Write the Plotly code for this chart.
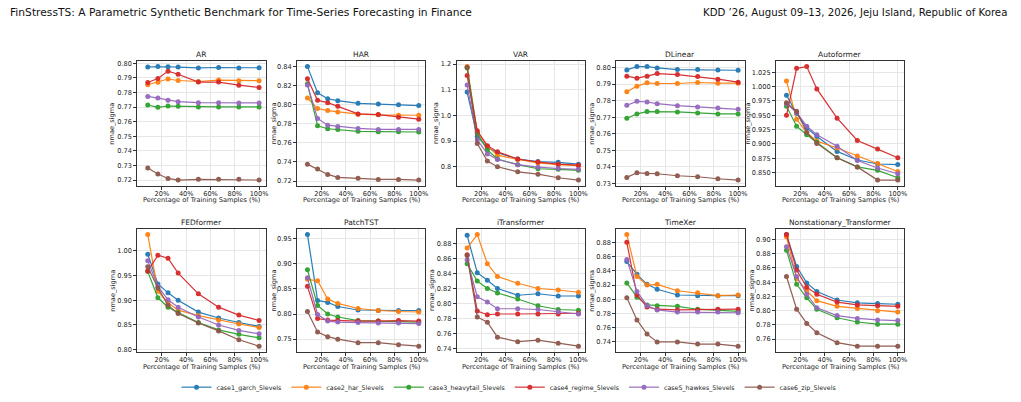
import plotly.graph_objects as go

# ---------------- data ----------------
pct = [8.33, 16.67, 25.0, 33.33, 50.0, 66.67, 83.33, 100.0]
x_tick_vals = [20, 40, 60, 80, 100]
x_tick_text = ["20%", "40%", "60%", "80%", "100%"]

series_names = ["case1_garch_5levels", "case2_har_5levels", "case3_heavytail_5levels",
                "case4_regime_5levels", "case5_hawkes_5levels", "case6_zip_5levels"]
series_colors = ["#1f77b4", "#ff7f0e", "#2ca02c", "#d62728", "#9467bd", "#8c564b"]

model_names = ["AR", "HAR", "VAR", "DLinear", "Autoformer",
               "FEDformer", "PatchTST", "iTransformer", "TimeXer", "Nonstationary_Transformer"]

# rows: garch, har, heavytail, regime, hawkes, zip
ar_vals = [
    [0.7975, 0.7977, 0.7976, 0.7974, 0.7968, 0.7971, 0.7968, 0.7969],
    [0.7853, 0.7870, 0.7892, 0.7882, 0.7875, 0.7885, 0.7880, 0.7880],
    [0.7714, 0.7698, 0.7707, 0.7705, 0.7701, 0.7701, 0.7701, 0.7701],
    [0.7868, 0.7896, 0.7946, 0.7925, 0.7871, 0.7871, 0.7850, 0.7834],
    [0.7773, 0.7762, 0.7746, 0.7737, 0.7730, 0.7730, 0.7728, 0.7728],
    [0.7282, 0.7241, 0.7211, 0.7200, 0.7205, 0.7205, 0.7205, 0.7200],
]
har_vals = [
    [0.8400, 0.8126, 0.8063, 0.8043, 0.8015, 0.8008, 0.8001, 0.7991],
    [0.8071, 0.7960, 0.7939, 0.7925, 0.7901, 0.7894, 0.7890, 0.7890],
    [0.8220, 0.7780, 0.7748, 0.7741, 0.7721, 0.7717, 0.7717, 0.7714],
    [0.8272, 0.8046, 0.8022, 0.7984, 0.7904, 0.7897, 0.7870, 0.7849],
    [0.8206, 0.7856, 0.7786, 0.7773, 0.7752, 0.7741, 0.7741, 0.7741],
    [0.7377, 0.7325, 0.7269, 0.7238, 0.7228, 0.7217, 0.7217, 0.7210],
]
var_vals = [
    [1.091, 0.918, 0.875, 0.855, 0.830, 0.820, 0.817, 0.810],
    [1.190, 0.935, 0.880, 0.845, 0.828, 0.815, 0.808, 0.804],
    [1.185, 0.930, 0.865, 0.830, 0.808, 0.792, 0.790, 0.786],
    [1.155, 0.940, 0.882, 0.858, 0.830, 0.818, 0.810, 0.806],
    [1.118, 0.905, 0.850, 0.828, 0.808, 0.798, 0.793, 0.790],
    [1.188, 0.890, 0.822, 0.800, 0.780, 0.771, 0.757, 0.748],
]
dlinear_vals = [
    [0.7986, 0.8006, 0.8006, 0.7998, 0.7988, 0.7988, 0.7986, 0.7984],
    [0.7854, 0.7888, 0.7908, 0.7904, 0.7904, 0.7910, 0.7906, 0.7906],
    [0.7694, 0.7720, 0.7734, 0.7734, 0.7732, 0.7726, 0.7720, 0.7720],
    [0.7948, 0.7936, 0.7948, 0.7964, 0.7958, 0.7946, 0.7930, 0.7912],
    [0.7772, 0.7796, 0.7792, 0.7782, 0.7770, 0.7762, 0.7756, 0.7748],
    [0.7336, 0.7364, 0.7360, 0.7358, 0.7346, 0.7340, 0.7328, 0.7320],
]
autoformer_vals = [
    [0.985, 0.953, 0.928, 0.913, 0.887, 0.872, 0.865, 0.864],
    [1.010, 0.943, 0.920, 0.905, 0.893, 0.879, 0.866, 0.852],
    [0.966, 0.931, 0.916, 0.903, 0.876, 0.860, 0.854, 0.841],
    [0.950, 1.032, 1.035, 0.996, 0.945, 0.906, 0.891, 0.876],
    [0.970, 0.955, 0.931, 0.916, 0.896, 0.871, 0.858, 0.848],
    [0.972, 0.957, 0.920, 0.901, 0.876, 0.860, 0.837, 0.837],
]
fedformer_vals = [
    [0.993, 0.933, 0.915, 0.900, 0.876, 0.864, 0.855, 0.847],
    [1.033, 0.918, 0.895, 0.880, 0.869, 0.860, 0.852, 0.845],
    [0.958, 0.905, 0.886, 0.875, 0.855, 0.840, 0.831, 0.824],
    [0.959, 0.991, 0.985, 0.955, 0.913, 0.886, 0.870, 0.859],
    [0.980, 0.928, 0.901, 0.886, 0.866, 0.850, 0.839, 0.832],
    [0.968, 0.925, 0.890, 0.873, 0.854, 0.838, 0.820, 0.807],
]
patchtst_vals = [
    [0.958, 0.827, 0.823, 0.815, 0.808, 0.807, 0.807, 0.807],
    [0.869, 0.866, 0.830, 0.821, 0.811, 0.807, 0.805, 0.804],
    [0.888, 0.817, 0.800, 0.794, 0.787, 0.786, 0.784, 0.784],
    [0.855, 0.791, 0.788, 0.787, 0.786, 0.786, 0.787, 0.786],
    [0.872, 0.799, 0.786, 0.784, 0.783, 0.782, 0.782, 0.781],
    [0.805, 0.764, 0.755, 0.750, 0.743, 0.743, 0.739, 0.736],
]
itransformer_vals = [
    [0.891, 0.841, 0.831, 0.820, 0.811, 0.813, 0.810, 0.810],
    [0.874, 0.892, 0.853, 0.836, 0.827, 0.820, 0.818, 0.815],
    [0.853, 0.830, 0.820, 0.814, 0.806, 0.797, 0.792, 0.791],
    [0.865, 0.790, 0.785, 0.786, 0.786, 0.786, 0.786, 0.787],
    [0.858, 0.809, 0.802, 0.793, 0.793, 0.792, 0.789, 0.786],
    [0.864, 0.782, 0.775, 0.755, 0.749, 0.751, 0.747, 0.743],
]
timexer_vals = [
    [0.853, 0.835, 0.821, 0.814, 0.806, 0.805, 0.805, 0.805],
    [0.891, 0.832, 0.820, 0.821, 0.812, 0.809, 0.805, 0.806],
    [0.823, 0.803, 0.792, 0.791, 0.790, 0.786, 0.785, 0.783],
    [0.880, 0.806, 0.789, 0.786, 0.785, 0.785, 0.786, 0.786],
    [0.856, 0.811, 0.791, 0.785, 0.782, 0.782, 0.782, 0.781],
    [0.802, 0.771, 0.751, 0.740, 0.740, 0.737, 0.737, 0.734],
]
nonstationary_vals = [
    [0.907, 0.862, 0.839, 0.827, 0.815, 0.811, 0.810, 0.809],
    [0.904, 0.845, 0.828, 0.814, 0.806, 0.803, 0.800, 0.798],
    [0.885, 0.837, 0.818, 0.802, 0.790, 0.784, 0.781, 0.781],
    [0.907, 0.857, 0.833, 0.823, 0.812, 0.808, 0.807, 0.806],
    [0.890, 0.848, 0.823, 0.804, 0.793, 0.789, 0.787, 0.786],
    [0.848, 0.802, 0.782, 0.769, 0.755, 0.750, 0.750, 0.750],
]
model_vals = [ar_vals, har_vals, var_vals, dlinear_vals, autoformer_vals,
              fedformer_vals, patchtst_vals, itransformer_vals, timexer_vals, nonstationary_vals]

y_dticks = [0.01, 0.02, 0.1, 0.01, 0.025, 0.05, 0.05, 0.02, 0.02, 0.02]
y_formats = [".2f", ".2f", ".1f", ".2f", ".3f", ".2f", ".2f", ".2f", ".2f", ".2f"]

x_title = "Percentage of Training Samples (%)"
y_title = "nmae_sigma"
header_left = "FinStressTS: A Parametric Synthetic Benchmark for Time-Series Forecasting in Finance"
header_right = "KDD \u201926, August 09\u201313, 2026, Jeju Island, Republic of Korea"

# ---------------- layout geometry (pixels) ----------------
W, H = 1021, 402
col_left = [137.7 + 160.15 * c for c in range(5)]
plot_w = 128.6
row_tb = [(61.0, 188.0), (232.0, 357.0)]
ytitle_offset = [25, 23, 20, 24, 28, 24, 23, 24, 24, 24]

FONT = "DejaVu Sans, Arial, sans-serif"
TICK_SIZE = 6.6
GRID = "#e6e6e6"
SPINE = "#333333"
TXT = "#222222"

fig = go.Figure()
layout = {}
annotations = []

for i, name in enumerate(model_names):
    r, c = divmod(i, 5)
    k = i + 1
    xa, ya = ("x", "y") if k == 1 else (f"x{k}", f"y{k}")
    vals = model_vals[i]
    for s in range(6):
        fig.add_trace(go.Scatter(
            x=pct, y=vals[s], mode="lines+markers", name=series_names[s],
            legendgroup=series_names[s], showlegend=(i == 0),
            line=dict(color=series_colors[s], width=1.2),
            marker=dict(size=5, color=series_colors[s]),
            opacity=0.95, cliponaxis=False, xaxis=xa, yaxis=ya))
    lo = min(min(v) for v in vals)
    hi = max(max(v) for v in vals)
    pad = 0.05 * (hi - lo)
    x0 = col_left[c] / W
    x1 = (col_left[c] + plot_w) / W
    top, bot = row_tb[r]
    y0 = 1 - bot / H
    y1 = 1 - top / H
    common = dict(showline=True, linecolor=SPINE, linewidth=1, mirror=True,
                  showgrid=True, gridcolor=GRID, gridwidth=0.8, zeroline=False,
                  ticks="outside", ticklen=3, tickwidth=0.8, tickcolor=SPINE,
                  tickfont=dict(family=FONT, size=TICK_SIZE, color=TXT))
    layout["xaxis" if k == 1 else f"xaxis{k}"] = dict(
        domain=[x0, x1], anchor=ya, range=[-0.3, 105.3], ticklabelstandoff=-2,
        tickmode="array", tickvals=x_tick_vals, ticktext=x_tick_text, **common)
    layout["yaxis" if k == 1 else f"yaxis{k}"] = dict(
        domain=[y0, y1], anchor=xa, range=[lo - pad, hi + pad],
        tick0=0, dtick=y_dticks[i], tickformat=y_formats[i], **common)
    # subplot title
    annotations.append(dict(
        text=name, x=(x0 + x1) / 2, y=1 - (top - 6.5) / H, xref="paper", yref="paper",
        xanchor="center", yanchor="middle", showarrow=False,
        font=dict(family=FONT, size=7.5, color=TXT)))
    # x-axis title
    annotations.append(dict(
        text=x_title, x=(x0 + x1) / 2, y=1 - (bot + 15) / H, xref="paper", yref="paper",
        xanchor="center", yanchor="middle", showarrow=False,
        font=dict(family=FONT, size=6.6, color=TXT)))
    # y-axis title
    annotations.append(dict(
        text=y_title, x=(col_left[c] - ytitle_offset[i]) / W, y=1 - (top + bot) / 2 / H,
        xref="paper", yref="paper", xanchor="center", yanchor="middle",
        textangle=-90, showarrow=False,
        font=dict(family=FONT, size=6.6, color=TXT)))

HFONT = "DejaVu Sans, Arial, sans-serif"
annotations.append(dict(text=header_left, x=8 / W, y=1 - 12 / H, xref="paper", yref="paper",
                        xanchor="left", yanchor="middle", showarrow=False,
                        font=dict(family=HFONT, size=10.7, color="#111")))
annotations.append(dict(text=header_right, x=1012 / W, y=1 - 12 / H, xref="paper", yref="paper",
                        xanchor="right", yanchor="middle", showarrow=False,
                        font=dict(family=HFONT, size=10.2, color="#111")))

fig.update_layout(
    width=W, height=H, margin=dict(l=0, r=0, t=0, b=0),
    paper_bgcolor="white", plot_bgcolor="white",
    showlegend=True,
    legend=dict(orientation="h", x=0.5, xanchor="center", y=1 - 393 / H, yanchor="middle",
                font=dict(family=FONT, size=6.3, color=TXT), itemwidth=30,
                bgcolor="rgba(0,0,0,0)"),
    annotations=annotations,
    **layout)

fig.write_html("out.html")
